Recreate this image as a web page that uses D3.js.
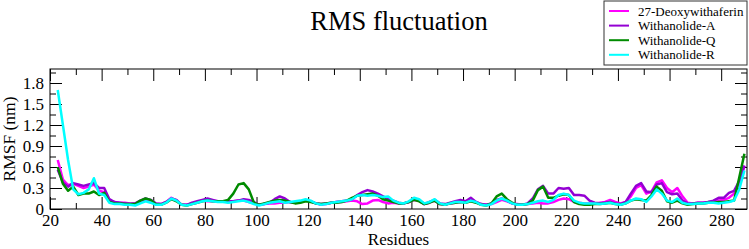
<!DOCTYPE html>
<html>
<head>
    <title>RMS fluctuation</title>
    <script src="https://d3js.org/d3.v7.min.js"></script>
</head>
<body style="margin:0">
    <svg width="749" height="249"></svg>

    <script>
        // Residue numbers (shared by every series)
        const residues = d3.range(23, 290, 2);

        const seriesNames = ["27-Deoxywithaferin", "Withanolide-A", "Withanolide-Q", "Withanolide-R"];
        const seriesColors = ["#ff00ff", "#9400d3", "#008b00", "#00ffff"];

        // RMSF values (nm)
        const deoxy = [0.70,0.42,0.34,0.36,0.33,0.30,0.32,0.35,0.26,0.24,0.12,0.10,0.09,0.09,0.08,0.08,0.10,0.13,0.10,0.07,
            0.07,0.10,0.16,0.12,0.06,0.06,0.08,0.10,0.12,0.11,0.11,0.11,0.11,0.10,0.11,0.12,0.12,0.10,0.08,0.06,
            0.07,0.08,0.08,0.09,0.09,0.10,0.09,0.10,0.12,0.11,0.08,0.06,0.07,0.09,0.10,0.10,0.11,0.12,0.11,0.07,
            0.08,0.12,0.13,0.10,0.08,0.09,0.08,0.08,0.10,0.13,0.12,0.07,0.09,0.12,0.07,0.06,0.08,0.09,0.10,0.11,
            0.14,0.10,0.07,0.06,0.07,0.10,0.13,0.11,0.08,0.07,0.06,0.07,0.08,0.09,0.08,0.08,0.10,0.13,0.15,0.14,
            0.10,0.09,0.08,0.08,0.08,0.09,0.10,0.13,0.10,0.08,0.10,0.18,0.30,0.34,0.22,0.25,0.38,0.41,0.30,0.24,
            0.30,0.18,0.09,0.08,0.09,0.09,0.10,0.11,0.12,0.13,0.16,0.22,0.35,0.62];
        const withA = [0.56,0.38,0.32,0.37,0.35,0.33,0.35,0.37,0.30,0.30,0.14,0.10,0.09,0.08,0.07,0.08,0.12,0.15,0.13,0.08,
            0.07,0.10,0.15,0.13,0.06,0.06,0.09,0.11,0.13,0.15,0.13,0.11,0.11,0.11,0.11,0.12,0.14,0.13,0.10,0.06,
            0.07,0.09,0.14,0.18,0.15,0.10,0.09,0.10,0.12,0.11,0.08,0.07,0.08,0.09,0.10,0.11,0.12,0.14,0.20,0.24,
            0.27,0.25,0.22,0.18,0.14,0.12,0.09,0.08,0.10,0.14,0.12,0.07,0.10,0.13,0.08,0.07,0.09,0.11,0.13,0.11,
            0.16,0.10,0.07,0.06,0.08,0.13,0.15,0.12,0.08,0.06,0.06,0.08,0.15,0.28,0.33,0.22,0.22,0.30,0.29,0.30,
            0.20,0.20,0.19,0.12,0.09,0.08,0.09,0.10,0.08,0.07,0.10,0.22,0.33,0.37,0.25,0.24,0.35,0.37,0.24,0.21,
            0.22,0.12,0.08,0.08,0.09,0.09,0.10,0.12,0.16,0.16,0.23,0.26,0.40,0.62];
        const withQ = [0.60,0.36,0.26,0.32,0.20,0.22,0.22,0.25,0.20,0.23,0.10,0.08,0.08,0.07,0.07,0.07,0.12,0.15,0.13,0.07,
            0.06,0.09,0.14,0.11,0.06,0.05,0.07,0.09,0.11,0.12,0.11,0.11,0.11,0.13,0.22,0.35,0.37,0.28,0.09,0.06,
            0.08,0.10,0.12,0.13,0.12,0.10,0.08,0.09,0.11,0.10,0.08,0.07,0.08,0.09,0.09,0.10,0.12,0.16,0.19,0.20,
            0.21,0.22,0.19,0.14,0.12,0.10,0.08,0.08,0.10,0.13,0.11,0.07,0.09,0.12,0.07,0.06,0.08,0.09,0.10,0.09,
            0.11,0.09,0.06,0.05,0.08,0.18,0.22,0.14,0.09,0.06,0.06,0.07,0.12,0.27,0.32,0.16,0.16,0.19,0.21,0.20,
            0.10,0.07,0.06,0.06,0.07,0.07,0.08,0.09,0.07,0.06,0.08,0.12,0.14,0.13,0.12,0.20,0.32,0.26,0.11,0.09,
            0.12,0.08,0.06,0.07,0.08,0.08,0.09,0.09,0.10,0.10,0.11,0.12,0.45,0.79];
        const withR = [1.70,1.20,0.70,0.28,0.21,0.23,0.28,0.44,0.22,0.20,0.09,0.07,0.07,0.06,0.06,0.05,0.08,0.11,0.09,0.06,
            0.06,0.09,0.15,0.12,0.06,0.05,0.07,0.09,0.11,0.12,0.11,0.10,0.10,0.09,0.10,0.11,0.12,0.10,0.07,0.05,
            0.07,0.09,0.10,0.11,0.09,0.10,0.11,0.12,0.14,0.12,0.08,0.06,0.07,0.09,0.10,0.11,0.12,0.14,0.19,0.20,
            0.19,0.20,0.19,0.17,0.18,0.12,0.09,0.08,0.11,0.16,0.14,0.08,0.10,0.14,0.08,0.06,0.08,0.10,0.10,0.09,
            0.12,0.10,0.06,0.05,0.07,0.12,0.15,0.12,0.08,0.06,0.06,0.07,0.09,0.11,0.12,0.10,0.13,0.20,0.22,0.20,
            0.12,0.09,0.08,0.08,0.08,0.07,0.08,0.09,0.07,0.06,0.08,0.12,0.15,0.14,0.10,0.18,0.28,0.22,0.12,0.10,
            0.15,0.09,0.07,0.07,0.08,0.08,0.09,0.09,0.08,0.09,0.10,0.12,0.28,0.55];
        const seriesValues = [deoxy, withA, withQ, withR];

        // Tick values
        const xTicks = d3.range(20, 281, 20);
        const xMinor = d3.range(30, 290, 20);
        const yTicks = [0, 0.3, 0.6, 0.9, 1.2, 1.5, 1.8];
        const yMinor = [0.15, 0.45, 0.75, 1.05, 1.35, 1.65, 1.95];

        const serif = '"Liberation Serif"';

        const margin = {top: 69, right: 2, bottom: 40, left: 50};
        const width = 749, height = 249;
        const svg = d3.select("svg");

        const x = d3.scaleLinear().domain([20, 290]).range([margin.left, width - margin.right]);
        const y = d3.scaleLinear().domain([0, 2]).range([height - margin.bottom, margin.top]);

        const major = 12, minor = 6;
        const bottom = height - margin.bottom;

        // bottom axis with labels
        svg.append("g")
            .attr("transform", `translate(0,${bottom})`)
            .call(d3.axisBottom(x).tickValues(xTicks).tickSizeInner(-major).tickSizeOuter(0).tickPadding(5));
        svg.append("g")
            .attr("transform", `translate(0,${bottom})`)
            .call(d3.axisBottom(x).tickValues(xMinor).tickSizeInner(-minor).tickSizeOuter(0).tickFormat(""));

        // top mirror ticks
        svg.append("g")
            .attr("transform", `translate(0,${margin.top})`)
            .call(d3.axisTop(x).tickValues(xTicks).tickSizeInner(-major).tickSizeOuter(0).tickFormat(""));
        svg.append("g")
            .attr("transform", `translate(0,${margin.top})`)
            .call(d3.axisTop(x).tickValues(xMinor).tickSizeInner(-minor).tickSizeOuter(0).tickFormat(""));

        // left axis with labels
        const gy = svg.append("g")
            .attr("transform", `translate(${margin.left},0)`)
            .call(d3.axisLeft(y).tickValues(yTicks).tickSizeInner(-major).tickSizeOuter(0).tickPadding(6)
                .tickFormat(d => d === 0 ? "0" : d.toFixed(1)));
        svg.append("g")
            .attr("transform", `translate(${margin.left},0)`)
            .call(d3.axisLeft(y).tickValues(yMinor).tickSizeInner(-minor).tickSizeOuter(0).tickFormat(""));

        // right mirror ticks
        svg.append("g")
            .attr("transform", `translate(${width - margin.right},0)`)
            .call(d3.axisRight(y).tickValues(yTicks).tickSizeInner(-major).tickSizeOuter(0).tickFormat(""));
        svg.append("g")
            .attr("transform", `translate(${width - margin.right},0)`)
            .call(d3.axisRight(y).tickValues(yMinor).tickSizeInner(-minor).tickSizeOuter(0).tickFormat(""));

        // the axis groups carry font-family="sans-serif"; drop it
        svg.selectAll("g").attr("font-family", null).attr("font-size", null);
        svg.selectAll(".tick text")
            .style("font-family", serif)
            .style("font-size", "17px")
            .attr("fill", "#000");
        gy.selectAll("text").attr("dy", "0.34em");
        svg.selectAll(".domain").remove();
        svg.selectAll(".tick line").attr("stroke", "#000").attr("stroke-width", 1);

        // series lines
        const line = d3.line()
            .x((d, i) => x(residues[i]))
            .y(d => y(d));

        seriesValues.forEach((vals, k) => {
            svg.append("path")
                .datum(vals)
                .attr("fill", "none")
                .attr("stroke", seriesColors[k])
                .attr("stroke-width", 2.5)
                .attr("stroke-linejoin", "round")
                .attr("d", line);
        });

        // plot frame
        svg.append("rect")
            .attr("x", x(20))
            .attr("y", y(2))
            .attr("width", x(290) - x(20))
            .attr("height", y(0) - y(2))
            .attr("fill", "none")
            .attr("stroke", "#000")
            .attr("stroke-width", 1);

        // title and axis labels
        svg.append("text")
            .attr("x", 399)
            .attr("y", 30)
            .attr("text-anchor", "middle")
            .style("font-family", serif)
            .style("font-size", "26.5px")
            .text("RMS fluctuation");

        svg.append("text")
            .attr("x", (x(20) + x(290)) / 2)
            .attr("y", 245)
            .attr("text-anchor", "middle")
            .style("font-family", serif)
            .style("font-size", "17px")
            .text("Residues");

        svg.append("text")
            .attr("transform", `translate(15,${(y(0) + y(2)) / 2}) rotate(-90)`)
            .attr("text-anchor", "middle")
            .style("font-family", serif)
            .style("font-size", "17.5px")
            .text("RMSF (nm)");

        // legend
        const legend = svg.append("g").attr("transform", "translate(604,1)");
        legend.append("rect")
            .attr("x", 0).attr("y", 0)
            .attr("width", 143).attr("height", 64)
            .attr("fill", "#fff")
            .attr("stroke", "#333")
            .attr("stroke-width", 1);
        seriesNames.forEach((name, k) => {
            const cy = 10 + k * 14.6;
            legend.append("line")
                .attr("x1", 5).attr("x2", 25)
                .attr("y1", cy).attr("y2", cy)
                .attr("stroke", seriesColors[k])
                .attr("stroke-width", 2);
            legend.append("text")
                .attr("x", 34)
                .attr("y", cy + 4.5)
                .style("font-family", serif)
                .style("font-size", "13px")
                .text(name);
        });
    </script>
</body>
</html>
